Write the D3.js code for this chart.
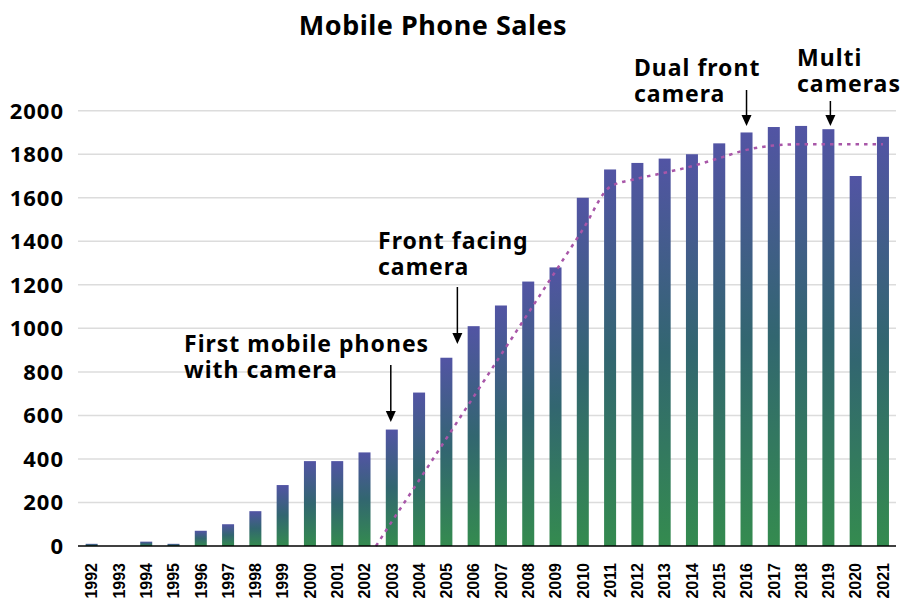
<!DOCTYPE html>
<html>
<head>
<meta charset="utf-8">
<script src="https://cdn.jsdelivr.net/npm/d3@7"></script>
<style>
  body { margin: 0; background: #fff; }
  svg { display: block; }
</style>
</head>
<body>
<div id="chart"></div>
<script>
// data
const years = ['1992','1993','1994','1995','1996','1997','1998','1999','2000','2001',
  '2002','2003','2004','2005','2006','2007','2008','2009','2010','2011',
  '2012','2013','2014','2015','2016','2017','2018','2019','2020','2021']
const sales = [10, 0, 20, 10, 70, 100, 160, 280, 390, 390,
  430, 535, 705, 865, 1010, 1105, 1215, 1280, 1600, 1730,
  1760, 1780, 1800, 1850, 1900, 1925, 1930, 1915, 1700, 1880]

// trend (dotted) line, year position + value
const trendYears = [2002.42, 2003, 2004, 2005, 2006, 2007, 2008, 2009, 2010, 2011,
  2012, 2013, 2014, 2015, 2016, 2017, 2018, 2019, 2020, 2021]
const trendValues = [0, 112, 302, 494, 686, 878, 1070, 1262, 1454, 1650,
  1688, 1715, 1745, 1782, 1820, 1840, 1846, 1846, 1846, 1846]

const yTicks = [0, 200, 400, 600, 800, 1000, 1200, 1400, 1600, 1800, 2000]

const notes = [
  {year: '2003', dx: -1, lines: ['First mobile phones', 'with camera'], tx: 184, ty: 352, a0: 365, a1: 422},
  {year: '2005', dx: 11, lines: ['Front facing', 'camera'], tx: 378, ty: 249, a0: 287, a1: 344},
  {year: '2016', dx: 0, lines: ['Dual front', 'camera'], tx: 634, ty: 76, a0: 90, a1: 126},
  {year: '2019', dx: 2, lines: ['Multi', 'cameras'], tx: 797, ty: 66, a0: 101, a1: 126},
]

const W = 904, H = 601
const svg = d3.select('#chart').append('svg').attr('width', W).attr('height', H)

const x = d3.scaleBand().domain(years).range([78, 896.6]).paddingInner(0.56).paddingOuter(0.28)
const y = d3.scaleLinear().domain([0, 2000]).range([546, 110.7])
const xc = d => x(d) + x.bandwidth() / 2
const xNum = d3.scaleLinear().domain([1992, 2021]).range([xc('1992'), xc('2021')])

// gradient for each bar
const defs = svg.append('defs')
const grad = defs.append('linearGradient').attr('id', 'barGrad')
  .attr('x1', 0).attr('y1', 0).attr('x2', 0).attr('y2', 1)
grad.append('stop').attr('offset', '0%').attr('stop-color', '#5254a4')
grad.append('stop').attr('offset', '50%').attr('stop-color', '#326670')
grad.append('stop').attr('offset', '100%').attr('stop-color', '#348b4f')

// title
svg.append('text').attr('x', 433).attr('y', 35)
  .attr('text-anchor', 'middle')
  .style('font-family', '"Noto Sans", sans-serif').style('font-weight', 'bold')
  .style('font-size', '27px').style('letter-spacing', '0.5px').attr('fill', '#000')
  .text('Mobile Phone Sales')

// grid
svg.append('g').selectAll('line')
  .data(yTicks.filter(d => d > 0))
  .enter().append('line')
  .attr('x1', 78).attr('x2', 896)
  .attr('y1', d => y(d)).attr('y2', d => y(d))
  .attr('stroke', '#dcdcdc').attr('stroke-width', 1.5)

// y labels
svg.append('g').selectAll('text')
  .data(yTicks)
  .enter().append('text')
  .attr('x', 64).attr('y', d => y(d)).attr('dy', '0.36em')
  .attr('text-anchor', 'end')
  .style('font-family', '"Noto Sans", sans-serif').style('font-weight', 'bold')
  .style('font-size', '22px').style('letter-spacing', '1px').attr('fill', '#000')
  .text(d => d)

// bars
svg.append('g').selectAll('rect')
  .data(years.map((yr, i) => ({yr, v: sales[i]})).filter(d => d.v > 0))
  .enter().append('rect')
  .attr('x', d => x(d.yr)).attr('width', x.bandwidth())
  .attr('y', d => y(d.v)).attr('height', d => y(0) - y(d.v))
  .attr('fill', 'url(#barGrad)')

// trend line
const line = d3.line().x(d => xNum(d[0])).y(d => y(d[1])).curve(d3.curveMonotoneX)
svg.append('path')
  .datum(trendYears.map((t, i) => [t, trendValues[i]]))
  .attr('d', line)
  .attr('fill', 'none').attr('stroke', '#a856a8')
  .attr('stroke-width', 2.5).attr('stroke-dasharray', '3.5,5')

// x axis line
svg.append('line').attr('x1', 78).attr('x2', 896)
  .attr('y1', y(0)).attr('y2', y(0))
  .attr('stroke', '#000').attr('stroke-width', 1.5)

// x labels
svg.append('g').selectAll('text')
  .data(years)
  .enter().append('text')
  .attr('transform', d => `translate(${xc(d)},563) rotate(-90)`)
  .attr('dy', '0.36em')
  .attr('text-anchor', 'end')
  .style('font-family', '"Liberation Sans", Arial, sans-serif').style('font-weight', 'bold')
  .style('font-size', '16px').attr('fill', '#000')
  .text(d => d)

// annotations
const ann = svg.append('g').selectAll('g').data(notes).enter().append('g')
ann.append('text')
  .attr('x', d => d.tx).attr('y', d => d.ty)
  .style('font-family', '"Noto Sans", sans-serif').style('font-weight', 'bold')
  .style('font-size', '23px').style('letter-spacing', '1px').attr('fill', '#000')
  .selectAll('tspan').data(d => d.lines.map((l, i) => ({l, i, tx: d.tx})))
  .enter().append('tspan')
  .attr('x', d => d.tx).attr('dy', d => d.i ? 25.5 : 0)
  .text(d => d.l)
ann.append('line')
  .attr('x1', d => xc(d.year) + d.dx).attr('x2', d => xc(d.year) + d.dx)
  .attr('y1', d => d.a0).attr('y2', d => d.a1 - 8)
  .attr('stroke', '#000').attr('stroke-width', 1.5)
ann.append('path')
  .attr('d', d => {
    const ax = xc(d.year) + d.dx
    return `M${ax - 5},${d.a1 - 11} L${ax + 5},${d.a1 - 11} L${ax},${d.a1} Z`
  })
  .attr('fill', '#000')
</script>
</body>
</html>
